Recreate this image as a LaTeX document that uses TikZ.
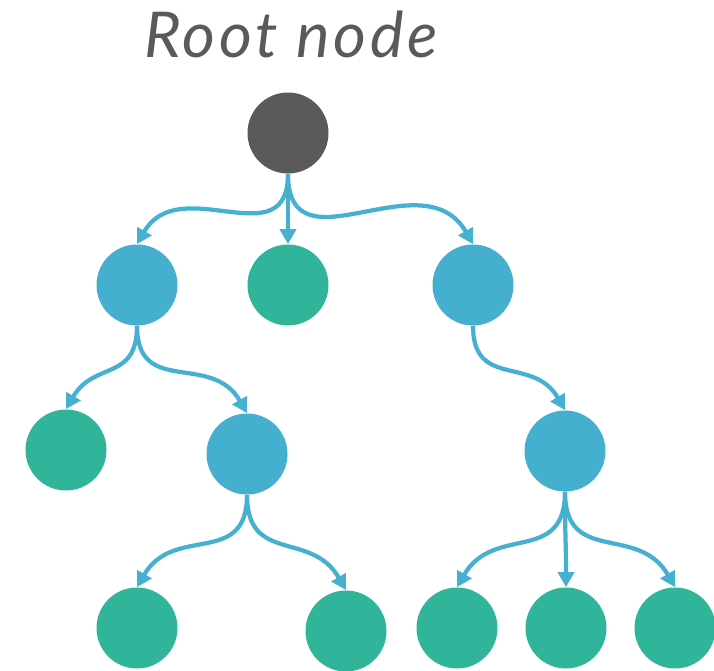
\documentclass[tikz,border=0pt]{standalone}
\usepackage{fontspec}
\usetikzlibrary{arrows.meta, positioning}
\newfontfamily\titlefont{Lato}[LetterSpace=6]
\definecolor{rootGray}{HTML}{5A5A5A}
\definecolor{innerBlue}{HTML}{45AFCF}
\definecolor{leafGreen}{HTML}{30B59A}
\definecolor{linkBlue}{HTML}{45B0D0}
\definecolor{titleGray}{HTML}{5A5A5A}

\begin{document}
\begin{tikzpicture}[
    treenode/.style={circle, minimum size=1.62cm, inner sep=0pt},
    link/.style={draw=linkBlue, line width=2.4pt,
      -{Triangle[length=0.3cm, width=0.32cm]}}
  ]
    \useasboundingbox (0,0) rectangle (14.28,-13.42);
    \node[font=\titlefont\itshape\fontsize{36}{40}\selectfont, text=titleGray, anchor=base] (title) at (5.82,-1.14) {Root node};
    % tree nodes
    \foreach \n/\x/\y/\c in {root/5.76/-2.66/rootGray,
      a/2.74/-5.7/innerBlue, b/5.76/-5.7/leafGreen, c/9.46/-5.7/innerBlue,
      d/1.32/-9.0/leafGreen, e/4.94/-9.08/innerBlue, f/11.3/-9.02/innerBlue,
      g/2.74/-12.56/leafGreen, h/6.92/-12.62/leafGreen, i/9.14/-12.56/leafGreen,
      j/11.32/-12.56/leafGreen, k/13.5/-12.56/leafGreen}{
      \node[treenode, fill=\c] (\n) at (\x,\y) {};
    }
    % links
    \foreach \p/\q/\i in {root/a/60, root/b/90, root/c/120, a/d/60, a/e/120,
      c/f/120, e/g/60, e/h/120, f/i/60, f/j/90, f/k/120}{
      \draw[link] (\p.south) to[out=-90, in=\i, looseness=1.3] (\q.north);
    }
  \end{tikzpicture}
\end{document}
